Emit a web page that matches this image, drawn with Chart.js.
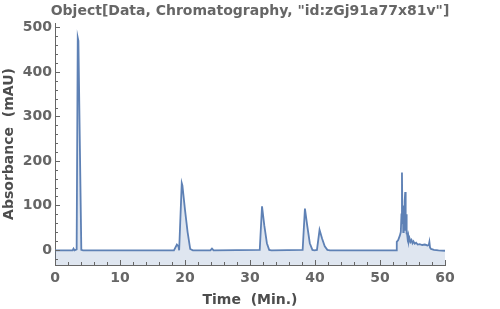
<!DOCTYPE html>
<html>
<head>
<meta charset="utf-8">
<script src="https://cdn.jsdelivr.net/npm/chart.js@4"></script>
<style>
  html, body { margin: 0; padding: 0; background: #fff; }
  #wrap { width: 500px; height: 309px; }
</style>
</head>
<body>
<div id="wrap"><canvas id="chromChart" width="500" height="309"></canvas></div>
<script>
// chromatogram trace (time in minutes, absorbance in mAU)
let time = [
  0, 2.7, 2.85, 3.0, 3.33, 3.5, 3.6, 4.05, 4.3,
  9, 14, 18.3, 18.75, 19.0, 19.1, 19.5, 19.6, 20.0, 20.4, 20.8, 21.2,
  23.9, 24.15, 24.4,
  31.5, 31.85, 32.2, 32.6, 32.95, 33.3,
  38.1, 38.45, 38.8, 39.2, 39.6, 39.9, 40.3, 40.7, 41.1, 41.5, 41.9, 42.3,
  52.5, 52.58, 52.8, 53.05, 53.2, 53.3, 53.38, 53.45, 53.52, 53.58, 53.65, 53.72,
  53.8, 53.88, 53.95, 54.0, 54.05, 54.15, 54.25, 54.35, 54.45, 54.55, 54.7, 54.85,
  55.0, 55.15, 55.35, 55.55, 55.8, 56.1, 56.5, 56.9, 57.3, 57.5, 57.6, 57.7, 57.85,
  58.3, 59, 60
];
let absorbance = [
  -1, -1, 3, -1, 1, 477, 470, 0, -1,
  -1, -1, -1, 12, 8, -1, 150, 145, 90, 40, 2, -1,
  -1, 3, -1,
  0, 98, 55, 15, 0, -1,
  0, 93, 55, 15, 0, -1, 0, 45, 25, 8, 0, -1,
  -1, 18, 22, 32, 40, 80, 174, 60, 100, 40, 95, 45,
  110, 130, 50, 80, 35, 45, 25, 32, 20, 26, 18, 22,
  15, 19, 14, 16, 12, 13, 11, 12, 10, 11, 18, 5, 2,
  0, -1, -2
];

let xTicks = [0, 10, 20, 30, 40, 50, 60];
let yTicks = [0, 100, 200, 300, 400, 500];
let xMinorStep = 2;
let yMinorStep = 20;

let titleText = 'Object[Data, Chromatography, "id:zGj91a77x81v"]';
let lineColor = '#5e81b5';
let axisColor = '#666666';
let labelFont = { family: 'DejaVu Sans', size: 14, weight: 'bold' };

// title centred on the whole canvas, like the original
const pageTitle = {
  id: 'pageTitle',
  afterDraw(chart) {
    const c = chart.ctx;
    c.save();
    c.font = 'bold 14px "DejaVu Sans"';
    c.fillStyle = axisColor;
    c.textAlign = 'center';
    c.textBaseline = 'middle';
    c.fillText(titleText, 250, 11);
    c.restore();
  }
};

// Mathematica style ticks: drawn inward from the axis lines
const innerTicks = {
  id: 'innerTicks',
  afterDatasetsDraw(chart) {
    const c = chart.ctx;
    const xs = chart.scales.x;
    const ys = chart.scales.y;
    const area = chart.chartArea;
    c.save();
    c.strokeStyle = axisColor;
    c.lineWidth = 1;
    c.beginPath();
    for (let v = xs.min; v <= xs.max + 1e-9; v += xMinorStep) {
      const px = Math.round(xs.getPixelForValue(v)) + 0.5;
      const len = xTicks.includes(v) ? 5 : 3;
      c.moveTo(px, area.bottom);
      c.lineTo(px, area.bottom - len);
    }
    for (let v = -20; v <= ys.max; v += yMinorStep) {
      if (v < ys.min) continue;
      const py = Math.round(ys.getPixelForValue(v)) + 0.5;
      const len = yTicks.includes(v) ? 5 : 3;
      c.moveTo(area.left, py);
      c.lineTo(area.left + len, py);
    }
    c.stroke();
    c.restore();
  }
};

new Chart(document.getElementById('chromChart').getContext('2d'), {
  type: 'line',
  data: {
    datasets: [{
      data: time.map((t, i) => ({ x: t, y: absorbance[i] })),
      borderColor: lineColor,
      borderWidth: 1.8,
      backgroundColor: 'rgba(94,129,181,0.2)',
      fill: 'start',
      pointRadius: 0,
      tension: 0
    }]
  },
  options: {
    responsive: false,
    animation: false,
    layout: { padding: { left: 0, right: 55, top: 23, bottom: 0 } },
    plugins: {
      legend: { display: false },
      tooltip: { enabled: false },
      title: { display: false }
    },
    scales: {
      x: {
        type: 'linear',
        min: 0,
        max: 60,
        afterBuildTicks: s => { s.ticks = xTicks.map(v => ({ value: v })); },
        afterFit: s => { s.height = 44; },
        grid: { display: false, drawTicks: false },
        border: { display: true, color: axisColor, width: 1 },
        ticks: { color: axisColor, padding: 5, font: labelFont },
        title: {
          display: true,
          text: 'Time  (Min.)',
          color: '#4d4d4d',
          font: labelFont,
          padding: { top: 8, bottom: 0 }
        }
      },
      y: {
        min: -34,
        max: 510,
        afterBuildTicks: s => { s.ticks = yTicks.map(v => ({ value: v })); },
        afterFit: s => { s.width = 55; },
        grid: { display: false, drawTicks: false },
        border: { display: true, color: axisColor, width: 1 },
        ticks: { color: axisColor, padding: 3, font: labelFont },
        title: {
          display: true,
          text: 'Absorbance  (mAU)',
          color: '#4d4d4d',
          font: labelFont,
          padding: { top: 1, bottom: 0 }
        }
      }
    }
  },
  plugins: [innerTicks, pageTitle]
});
</script>
</body>
</html>
